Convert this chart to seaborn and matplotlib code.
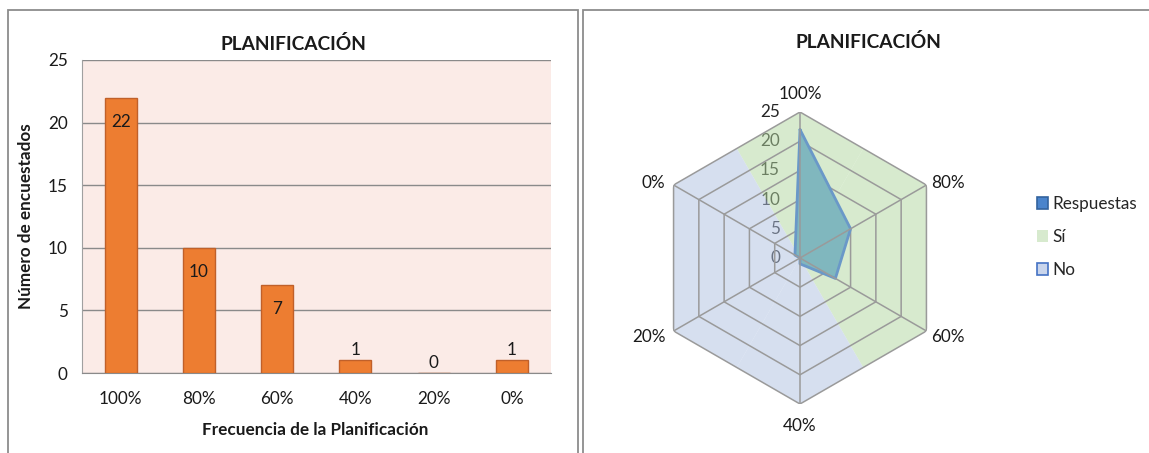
import numpy as np
import matplotlib
matplotlib.use("Agg")
import matplotlib.pyplot as plt
from matplotlib.patches import Rectangle, Patch
from matplotlib.transforms import offset_copy
import seaborn as sns

# ---- data ----
categorias = ["100%", "80%", "60%", "40%", "20%", "0%"]
respuestas = [22, 10, 7, 1, 0, 1]
grupo = ["Sí", "Sí", "Sí", "No", "No", "No"]
y_ticks = [0, 5, 10, 15, 20, 25]

titulo = "PLANIFICACIÓN"
ylabel = "Número de encuestados"
xlabel = "Frecuencia de la Planificación"

sns.set_style("white")
plt.rcParams["font.family"] = ["Lato", "DejaVu Sans"]

W, H = 1149, 453
fig = plt.figure(figsize=(W / 100, H / 100), dpi=100)
fig.patch.set_facecolor("white")


def fx(px):
    return px / W


def fy(py):
    return 1 - py / H


TXT = "#1A1A1A"
FS = 12.3

# ---- panel frames ----
frame_col = "#8C8C8C"
fig.patches.append(Rectangle((fx(8), -0.02), fx(577.5 - 8), fy(9.5) + 0.02,
                             transform=fig.transFigure, fill=False,
                             ec=frame_col, lw=1.3))
fig.patches.append(Rectangle((fx(582.5), -0.02), fx(600), fy(9.5) + 0.02,
                             transform=fig.transFigure, fill=False,
                             ec=frame_col, lw=1.3))

# ---- left: bar chart ----
left, right, top, bottom = 81.7, 551, 60, 373
ax = fig.add_axes([fx(left), fy(bottom), fx(right - left), (bottom - top) / H])
ax.set_facecolor("#FBEBE7")
sns.barplot(x=categorias, y=respuestas, color="#ED7D31", saturation=1,
            width=0.41, edgecolor="#C0602A", linewidth=1.0, ax=ax, zorder=3)
ax.set_ylim(0, 25)
ax.set_yticks(y_ticks)
ax.set_xlim(-0.5, len(categorias) - 0.5)
ax.yaxis.grid(True, color="#8A8A8A", lw=1.0, zorder=1)
ax.set_axisbelow(True)
for s in ["top", "right"]:
    ax.spines[s].set_visible(False)
ax.spines["left"].set_color("#A0A0A0")
ax.spines["bottom"].set_color("#8A8A8A")
ax.tick_params(axis="y", length=5, color="#8A8A8A", labelsize=FS, pad=5,
               labelcolor=TXT)
ax.tick_params(axis="x", length=0, labelsize=FS, pad=13, labelcolor=TXT)
ax.set_ylabel(ylabel, fontsize=12.3, fontweight="bold", color=TXT)
ax.yaxis.set_label_coords(-0.102, 0.5)
ax.set_xlabel(xlabel, fontsize=12.3, fontweight="bold", color=TXT)
ax.xaxis.set_label_coords(0.497, -0.158)

for i, v in enumerate(respuestas):
    if v >= 5:
        ax.annotate(str(v), (i, v), xytext=(0, -24), textcoords="offset pixels",
                    ha="center", va="center", fontsize=FS, color=TXT,
                    zorder=5)
    else:
        ax.annotate(str(v), (i, v), xytext=(0, 10), textcoords="offset pixels",
                    ha="center", va="center", fontsize=FS, color=TXT,
                    zorder=5)

fig.text(fx(293), fy(43.7), titulo, ha="center", va="center",
         fontsize=13.8, fontweight="bold", color=TXT)

# ---- right: radar chart ----
cx, cy, R = 800, 258, 146
axr = fig.add_axes([fx(cx - R), fy(cy + R), fx(2 * R), 2 * R / H],
                   projection="polar")
axr.set_theta_zero_location("N")
axr.set_theta_direction(-1)
axr.set_ylim(0, 25)
axr.grid(False)
axr.spines["polar"].set_visible(False)
axr.patch.set_alpha(0)
axr.set_yticks([])

n = len(categorias)
ang = np.linspace(0, 2 * np.pi, n, endpoint=False)
rmax = y_ticks[-1]
half = np.pi / n

colores_zona = {"Sí": "#B1D79F", "No": "#AFC1E1"}
for k in range(n):
    th = [ang[k] - half, ang[k], ang[k] + half, 0]
    rr = [rmax * np.cos(half), rmax, rmax * np.cos(half), 0]
    axr.fill(th, rr, color=colores_zona[grupo[k]], alpha=0.5, lw=0, zorder=2)

grid_col = "#9A9A9A"
closed = np.append(ang, ang[0])
for r in y_ticks[1:]:
    axr.plot(closed, [r] * (n + 1), color=grid_col, lw=1.1, zorder=3)

vals = np.append(respuestas, respuestas[0])
axr.fill(closed, vals, color="#80B7BE", lw=0, zorder=4)
axr.plot(closed, vals, color="#6A98C8", lw=2, zorder=5)

for a in ang:
    axr.plot([a, a], [0, rmax], color=grid_col, lw=1.1, zorder=6)

# category labels just outside each vertex
axr.set_xticks(ang)
axr.set_xticklabels([])
cat_pos = [  # (dx, dy) in pixels, ha
    (0, 18, "center"), (5, 2, "left"), (5, -6, "left"),
    (0, -22, "center"), (-8, -6, "right"), (-8, 2, "right"),
]
for a, lab, (dx, dy, ha) in zip(ang, categorias, cat_pos):
    tr = offset_copy(axr.transData, fig=fig, x=dx, y=dy, units="dots")
    axr.text(a, rmax, lab, transform=tr, ha=ha, va="center",
             fontsize=FS, color=TXT, clip_on=False, zorder=7)

lab_tr = offset_copy(axr.transData, fig=fig, x=-20, y=0, units="dots")
for r in y_ticks:
    axr.text(0, r, str(r), transform=lab_tr, ha="right", va="center",
             fontsize=FS, color="#262626", zorder=1)

fig.text(fx(868), fy(42.5), titulo, ha="center", va="center",
         fontsize=13.8, fontweight="bold", color=TXT)

handles = [
    Patch(facecolor="#4A84CC", edgecolor="#33639E", lw=1.2),
    Patch(facecolor=colores_zona["Sí"], alpha=0.5, lw=0),
    Patch(facecolor="#C9D5EC", edgecolor="#4472C4", lw=1.2),
]
fig.legend(handles, ["Respuestas", "Sí", "No"], loc="center left",
           bbox_to_anchor=(fx(1022), fy(237)), frameon=False, fontsize=FS,
           handlelength=0.65, handleheight=0.65, handletextpad=0.2,
           labelspacing=1.0)

fig.savefig("out.png", dpi=100)
